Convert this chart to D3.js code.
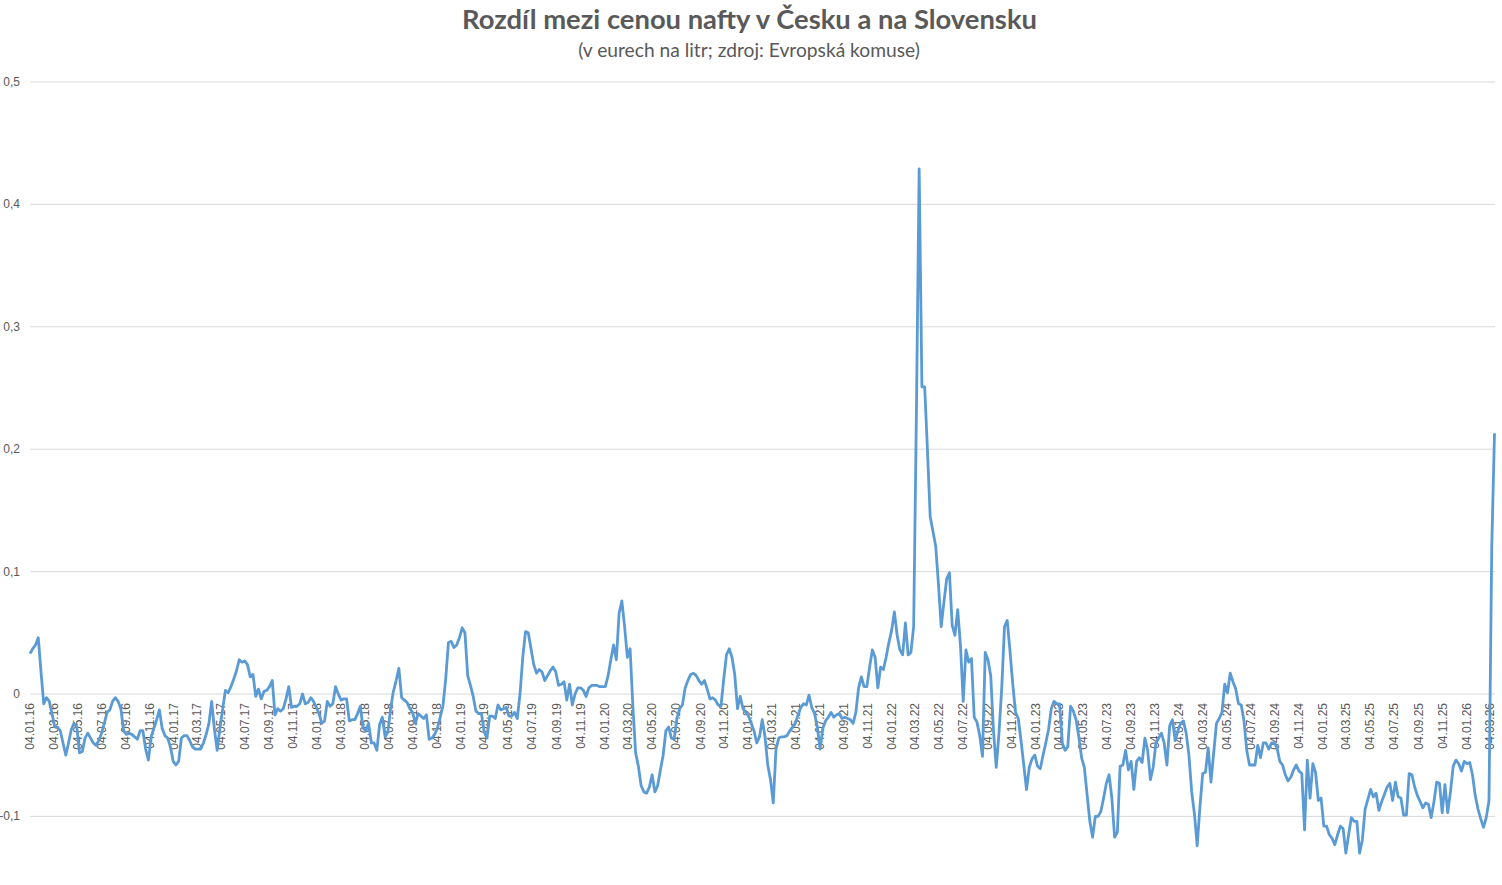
<!DOCTYPE html>
<html>
<head>
<meta charset="utf-8">
<script src="https://cdn.jsdelivr.net/npm/d3@7/dist/d3.min.js"></script>
<style>
  body { margin: 0; background: #fff; }
  text { font-family: "Liberation Sans", Arial, sans-serif; fill: #595959; }
</style>
</head>
<body>
<svg id="chart" width="1502" height="885"></svg>
<script>
"use strict";

// weekly values (Mondays), EUR/l difference CZ - SK
const firstWeek = "2016-01-04";

const y2016 = [0.033,0.037,0.040,0.046,0.018,-0.008,-0.003,-0.006,-0.016,-0.027,-0.027,-0.030,-0.040,-0.050,-0.040,-0.029,
  -0.024,-0.027,-0.048,-0.047,-0.036,-0.032,-0.036,-0.040,-0.042,-0.038,-0.032,-0.024,-0.015,-0.013,-0.006,-0.003,
  -0.006,-0.012,-0.030,-0.033,-0.032,-0.033,-0.035,-0.037,-0.030,-0.030,-0.045,-0.054,-0.035,-0.028,-0.021,-0.013,
  -0.028,-0.034,-0.036,-0.043];
const y2017 = [-0.055,-0.058,-0.055,-0.036,-0.034,-0.034,-0.038,-0.043,-0.045,-0.045,-0.045,-0.040,-0.033,-0.024,-0.006,-0.029,
  -0.046,-0.028,-0.012,0.003,0.001,0.006,0.012,0.019,0.028,0.026,0.027,0.024,0.014,0.016,-0.002,0.004,
  -0.004,0.002,0.003,0.006,0.011,-0.017,-0.012,-0.014,-0.012,-0.004,0.006,-0.011,-0.010,-0.010,-0.008,0.000,
  -0.008,-0.007,-0.003,-0.006];
const y2018 = [-0.011,-0.016,-0.024,-0.022,-0.006,-0.010,-0.008,0.006,0.000,-0.005,-0.004,-0.004,-0.022,-0.021,-0.021,-0.016,
  -0.010,-0.028,-0.030,-0.024,-0.040,-0.040,-0.046,-0.025,-0.019,-0.035,-0.031,-0.012,0.002,0.011,0.021,-0.003,
  -0.005,-0.007,-0.012,-0.015,-0.024,-0.016,-0.018,-0.020,-0.017,-0.037,-0.036,-0.033,-0.028,-0.019,-0.010,0.012,
  0.042,0.043,0.038,0.040];
const y2019 = [0.046,0.054,0.050,0.015,0.007,-0.002,-0.014,-0.016,-0.016,-0.031,-0.036,-0.018,-0.018,-0.020,-0.009,-0.013,
  -0.012,-0.011,-0.018,-0.018,-0.015,-0.020,0.000,0.030,0.051,0.050,0.037,0.024,0.017,0.020,0.018,0.011,
  0.015,0.019,0.022,0.018,0.007,0.008,0.010,-0.005,0.008,-0.009,0.000,0.005,0.005,0.003,-0.002,0.005,
  0.007,0.007,0.007,0.006];
const y2020 = [0.006,0.006,0.015,0.028,0.040,0.028,0.066,0.076,0.055,0.030,0.037,-0.010,-0.048,-0.059,-0.075,-0.080,
  -0.081,-0.076,-0.066,-0.080,-0.075,-0.062,-0.050,-0.030,-0.027,-0.036,-0.037,-0.020,-0.012,-0.009,0.005,0.011,
  0.016,0.017,0.015,0.011,0.008,0.011,0.004,-0.004,-0.003,-0.005,-0.009,-0.010,0.012,0.032,0.037,0.030,
  0.016,-0.012,-0.002,-0.012];
const y2021 = [-0.015,-0.018,-0.024,-0.030,-0.040,-0.035,-0.021,-0.035,-0.058,-0.070,-0.089,-0.045,-0.036,-0.035,-0.035,-0.034,
  -0.030,-0.027,-0.024,-0.017,-0.011,-0.008,-0.009,-0.001,-0.011,-0.016,-0.027,-0.045,-0.028,-0.022,-0.019,-0.015,
  -0.019,-0.017,-0.016,-0.020,-0.019,-0.020,-0.021,-0.024,-0.015,0.005,0.014,0.006,0.006,0.022,0.036,0.030,
  0.005,0.022,0.020,0.030];
const y2022 = [0.042,0.052,0.067,0.048,0.036,0.032,0.058,0.032,0.034,0.055,0.230,0.429,0.251,0.251,0.200,0.145,
  0.133,0.121,0.090,0.055,0.075,0.094,0.099,0.056,0.048,0.069,0.040,-0.006,0.036,0.026,0.029,-0.019,
  -0.023,-0.034,-0.051,0.034,0.028,0.015,-0.030,-0.060,-0.032,0.005,0.055,0.060,0.035,0.008,-0.015,-0.020,
  -0.038,-0.058,-0.078,-0.060];
const y2023 = [-0.053,-0.050,-0.059,-0.061,-0.050,-0.040,-0.029,-0.012,-0.006,-0.008,-0.008,-0.040,-0.046,-0.043,-0.010,-0.014,
  -0.021,-0.035,-0.052,-0.060,-0.082,-0.104,-0.117,-0.100,-0.100,-0.096,-0.085,-0.073,-0.066,-0.085,-0.117,-0.113,
  -0.059,-0.058,-0.046,-0.062,-0.055,-0.078,-0.055,-0.052,-0.056,-0.036,-0.046,-0.070,-0.060,-0.040,-0.036,-0.032,
  -0.040,-0.058,-0.026,-0.021];
const y2024 = [-0.038,-0.030,-0.024,-0.022,-0.032,-0.050,-0.080,-0.098,-0.124,-0.092,-0.065,-0.064,-0.044,-0.072,-0.048,-0.024,
  -0.020,-0.015,0.008,0.001,0.017,0.010,0.004,-0.008,-0.009,-0.022,-0.046,-0.058,-0.058,-0.058,-0.042,-0.052,
  -0.040,-0.040,-0.045,-0.040,-0.040,-0.044,-0.055,-0.058,-0.066,-0.071,-0.068,-0.062,-0.058,-0.063,-0.065,-0.111,
  -0.054,-0.085,-0.057,-0.064,-0.087];
const y2025 = [-0.085,-0.108,-0.108,-0.115,-0.118,-0.123,-0.115,-0.108,-0.110,-0.130,-0.115,-0.101,-0.104,-0.104,-0.130,-0.119,
  -0.094,-0.086,-0.078,-0.084,-0.081,-0.095,-0.088,-0.082,-0.076,-0.073,-0.087,-0.072,-0.084,-0.085,-0.099,-0.099,
  -0.065,-0.066,-0.076,-0.083,-0.088,-0.093,-0.089,-0.090,-0.101,-0.088,-0.072,-0.073,-0.097,-0.074,-0.097,-0.080,
  -0.059,-0.054,-0.057,-0.063];
const y2026 = [-0.055,-0.057,-0.056,-0.066,-0.083,-0.094,-0.102,-0.109,-0.101,-0.087,0.120,0.213];

const yTicks = [-0.1, 0, 0.1, 0.2, 0.3, 0.4, 0.5];

const values = [].concat(y2016, y2017, y2018, y2019, y2020, y2021, y2022, y2023, y2024, y2025, y2026);
const start = d3.utcParse("%Y-%m-%d")(firstWeek);
const data = values.map((v, i) => ({ date: d3.utcDay.offset(start, 7 * i), v }));

// ---- svg + scales
const svg = d3.select("#chart");
const x = d3.scaleUtc()
  .domain([start, data[data.length - 1].date])
  .range([30, 1494.5]);
const y = d3.scaleLinear().domain([-0.15, 0.5]).range([877.6, 82]);

// x ticks: the 4th of every second month
const xTickVals = [start].concat(
  d3.utcMonth.range(new Date(Date.UTC(2016, 2, 1)), new Date(Date.UTC(2026, 3, 1)), 2)
    .map(d => d3.utcDay.offset(d, 3)));

// ---- gridlines
svg.append("g").selectAll("line").data(yTicks).join("line")
  .attr("x1", 30).attr("x2", 1495)
  .attr("y1", d => y(d)).attr("y2", d => y(d))
  .attr("stroke", "#d9d9d9").attr("stroke-width", 1);

// ---- y axis labels
const fmtY = d => d === 0 ? "0" : d3.format(".1f")(d).replace(".", ",").replace("−", "-");
svg.append("g").selectAll("text").data(yTicks).join("text")
  .attr("x", 20).attr("y", d => y(d) + 4)
  .attr("text-anchor", "end")
  .style("font-size", "12px")
  .text(fmtY);

// ---- x axis labels (rotated)
const fmtX = d3.utcFormat("%d.%m.%y");
svg.append("g").selectAll("text").data(xTickVals).join("text")
  .attr("transform", d => `translate(${x(d) + 4},703) rotate(-90)`)
  .attr("text-anchor", "end")
  .style("font-size", "12px")
  .text(fmtX);

// ---- the line
svg.append("path").datum(data)
  .attr("fill", "none")
  .attr("stroke", "#5b9bd5")
  .attr("stroke-width", 2.8)
  .attr("stroke-linejoin", "round")
  .attr("d", d3.line().x(d => x(d.date)).y(d => y(d.v)));

// ---- titles
const title = svg.append("text").attr("x", 749.5).attr("y", 29)
  .attr("text-anchor", "middle")
  .style("font-family", "Lato, 'Open Sans', sans-serif")
  .style("font-weight", "700").style("font-size", "24px")
  .text("Rozdíl mezi cenou nafty v Česku a na Slovensku");
const sub = svg.append("text").attr("x", 749).attr("y", 57)
  .attr("text-anchor", "middle")
  .style("font-family", "Lato, 'Open Sans', sans-serif")
  .style("font-size", "18px")
  .text("(v eurech na litr; zdroj: Evropská komuse)");

// fit title widths to the reference
[[title, 575, 24], [sub, 342, 18]].forEach(([t, w, fs]) => {
  const len = t.node().getComputedTextLength();
  t.style("font-size", (fs * w / len).toFixed(2) + "px");
});
</script>
</body>
</html>
